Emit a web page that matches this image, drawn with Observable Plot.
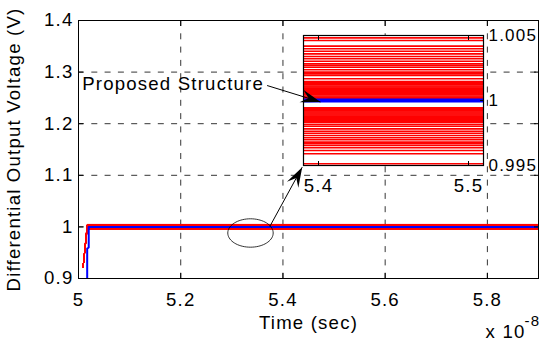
<!DOCTYPE html>
<html><head><meta charset="utf-8">
<script src="https://cdn.jsdelivr.net/npm/d3@7"></script>
<script src="https://cdn.jsdelivr.net/npm/@observablehq/plot@0.6"></script>
<style>
body{margin:0;background:#fff;}
#chart{position:relative;width:539px;height:345px;overflow:hidden;}
#chart svg{position:absolute;left:0;top:0;}
</style></head><body><div id="chart"></div>
<script>
// ---- data ----
const redLevels = [
  1.00482, 1.00462, 1.00418, 1.00398, 1.00379, 1.00359, 1.00338, 1.00321, 1.00302, 1.00282,
  1.00269, 1.00256, 1.00236, 1.00218, 1.00205, 1.00192, 1.00167,
  1.00146, 1.00138, 1.00130, 1.00121, 1.00112, 1.00104, 1.00095, 1.00087, 1.00078, 1.00070,
  1.00061, 1.00052, 1.00044, 1.00035, 1.00026, 1.00018,
  0.99944, 0.99936, 0.99928, 0.99920, 0.99912, 0.99904, 0.99896, 0.99888, 0.99880, 0.99872,
  0.99864, 0.99856, 0.99848, 0.99840, 0.99832,
  0.99815, 0.99802, 0.99782, 0.99764, 0.99748, 0.99731, 0.99713, 0.99698, 0.99680, 0.99667,
  0.99654, 0.99636, 0.99615, 0.99590, 0.99513
];
const redRampTime = [5.009, 5.017, 5.9];
const redRampStartVolt = 0.922;
const blueTime = [5.017, 5.017, 5.020, 5.020, 5.9];
const blueVolt = [0.88, 0.958, 0.960, 1.0, 1.0];

const xTicks = [5, 5.2, 5.4, 5.6, 5.8];
const yTicks = [0.9, 1, 1.1, 1.2, 1.3, 1.4];
const xGrid = [5.2, 5.4, 5.6, 5.8];
const yGrid = [1, 1.1, 1.2, 1.3];
const xDomain = [5, 5.9];
const yDomain = [0.9, 1.4];

const insetXDomain = [5.39, 5.51];
const insetYDomain = [0.995, 1.005];
const insetXTicks = [5.4, 5.5];
const insetYTicks = [0.995, 1, 1.005];

const xLabel = "Time (sec)";
const yLabel = "Differential Output Voltage (V)";
const exponentBase = "x 10";
const exponentPower = "-8";

const noteLabels = ["Proposed Structure"];
const noteTime = [5.0072];
const noteVolt = [1.2773];
const arrowFromTime = [5.369, 5.3743];
const arrowFromVolt = [1.274, 1.0008];
const arrowToTime = [5.4735, 5.4377];
const arrowToVolt = [1.2421, 1.1157];
const ellipseTime = [5.3365];
const ellipseVolt = [0.9882];

// ---- tables ----
const red = redLevels.flatMap((lv, i) => redRampTime.map((t, j) => ({t, v: j === 0 ? redRampStartVolt : lv, s: i})));
const blue = blueTime.map((t, i) => ({t, v: blueVolt[i]}));
const notes = noteLabels.map((label, i) => ({label, t: noteTime[i], v: noteVolt[i]}));
const arrows = arrowFromTime.map((t1, i) => ({t1, v1: arrowFromVolt[i], t2: arrowToTime[i], v2: arrowToVolt[i]}));
const ellipses = ellipseTime.map((t, i) => ({t, v: ellipseVolt[i]}));

const W = 539, H = 345;
const font = {fontFamily: "'Liberation Sans', Arial, sans-serif", fontSize: "18.6px", letterSpacing: "1.2px"};
const gridStyle = {stroke: "#000", strokeOpacity: 1, strokeWidth: 0.8, strokeDasharray: "6,7.3"};
const fmt = d3.format("~g");
const none = () => "";

const main = Plot.plot({
  width: W, height: H, marginLeft: 78, marginRight: 1, marginTop: 20, marginBottom: 67,
  x: {domain: xDomain, label: null},
  y: {domain: yDomain, label: null},
  style: {...font, background: "white"},
  marks: [
    Plot.gridX(xGrid, gridStyle),
    Plot.gridY(yGrid, gridStyle),
    Plot.line(red, {x: "t", y: "v", z: "s", stroke: "#ff0000", strokeWidth: 1, clip: true}),
    Plot.line(blue, {x: "t", y: "v", stroke: "#0000ff", strokeWidth: 2, clip: true}),
    Plot.frame({stroke: "#000", strokeWidth: 1}),
    Plot.axisX(xTicks, {anchor: "bottom", tickSize: -5, tickPadding: 19, tickFormat: fmt, label: null}),
    Plot.axisX(xTicks, {anchor: "top", tickSize: -5, tickFormat: none, label: null}),
    Plot.axisY(yTicks, {anchor: "left", tickSize: -5, tickPadding: 10, tickFormat: fmt, label: null}),
    Plot.axisY(yTicks, {anchor: "right", tickSize: -5, tickFormat: none, label: null}),
    Plot.text([xLabel], {text: d => d, frameAnchor: "bottom", textAnchor: "middle", dy: 50}),
    Plot.text([yLabel], {text: d => d, frameAnchor: "left", textAnchor: "middle", rotate: -90, dx: -64}),
    Plot.text([exponentBase], {text: d => d, frameAnchor: "bottom-right", textAnchor: "end", dx: -13, dy: 59}),
    Plot.text([exponentPower], {text: d => d, frameAnchor: "bottom-right", textAnchor: "start", dx: -14, dy: 47, fontSize: 15})
  ]
});

const inset = Plot.plot({
  width: W, height: H, marginLeft: 303, marginRight: 56, marginTop: 35, marginBottom: 180,
  x: {domain: insetXDomain, label: null},
  y: {domain: insetYDomain, label: null},
  style: {...font, background: "transparent", overflow: "visible"},
  marks: [
    Plot.frame({fill: "white"}),
    Plot.line(red, {x: "t", y: "v", z: "s", stroke: "#ff0000", strokeWidth: 1.6, clip: true}),
    Plot.line(blue, {x: "t", y: "v", stroke: "#0000ff", strokeWidth: 4, clip: true}),
    Plot.frame({stroke: "#000", strokeWidth: 1.2}),
    Plot.axisX(insetXTicks, {anchor: "bottom", tickSize: -4, tickPadding: 17, tickFormat: fmt, label: null}),
    Plot.axisX(insetXTicks, {anchor: "top", tickSize: -4, tickFormat: none, label: null}),
    Plot.axisY(insetYTicks, {anchor: "right", tickSize: -4, tickPadding: 9, tickFormat: fmt, label: null, fontSize: 17}),
    Plot.axisY(insetYTicks, {anchor: "left", tickSize: -4, tickFormat: none, label: null})
  ]
});

// annotation layer shares the main scales
const sx = main.scale("x"), sy = main.scale("y");
function dart(a) {
  const ang = Math.atan2(sy.apply(a.v2) - sy.apply(a.v1), sx.apply(a.t2) - sx.apply(a.t1));
  const c = Math.cos(ang), s = Math.sin(ang);
  const len = 20, hw = 6.5, notch = 0.62;
  const pts = [[0, 0], [-len, hw], [-len * notch, 0], [-len, -hw]];
  return {draw(ctx) {
    pts.forEach(([p, q], i) => { const X = p * c - q * s, Y = p * s + q * c; i ? ctx.lineTo(X, Y) : ctx.moveTo(X, Y); });
    ctx.closePath();
  }};
}
const ellipseSymbol = {draw(ctx) {
  const rx = 22.7, ry = 14.2, n = 72;
  for (let k = 0; k <= n; k++) {
    const a = 2 * Math.PI * k / n;
    const X = rx * Math.cos(a), Y = ry * Math.sin(a);
    k ? ctx.lineTo(X, Y) : ctx.moveTo(X, Y);
  }
  ctx.closePath();
}};

const overlay = Plot.plot({
  width: W, height: H, marginLeft: 78, marginRight: 1, marginTop: 20, marginBottom: 67,
  x: {domain: xDomain, axis: null},
  y: {domain: yDomain, axis: null},
  style: {...font, background: "transparent", overflow: "visible"},
  marks: [
    Plot.dot(ellipses, {x: "t", y: "v", symbol: ellipseSymbol, r: 5, fill: "none", stroke: "#000", strokeWidth: 0.8}),
    Plot.link(arrows, {x1: "t1", y1: "v1", x2: "t2", y2: "v2", stroke: "#000", strokeWidth: 1}),
    ...arrows.map(a => Plot.dot([a], {x: "t2", y: "v2", symbol: dart(a), r: 5, fill: "#000", stroke: "none"})),
    Plot.text(notes, {x: "t", y: "v", text: "label", textAnchor: "start"})
  ]
});

const host = document.getElementById("chart");
host.append(main, inset, overlay);
</script></body></html>
